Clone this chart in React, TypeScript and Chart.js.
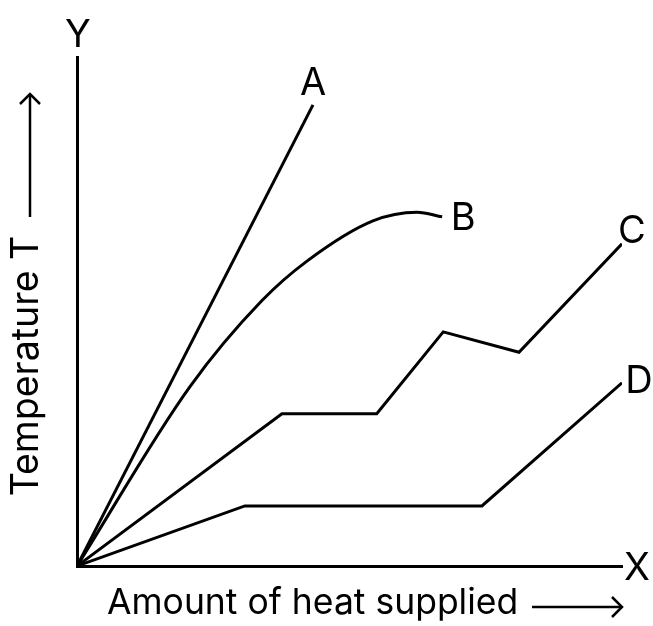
import { useEffect, useRef } from 'react';
import { Chart, registerables } from 'chart.js';

Chart.register(...registerables);

// heat supplied (x) and temperature (y), both on a 0–100 scale with no ticks
const seriesNames = ['A', 'B', 'C', 'D'];
const aHeat = [0, 43.3];
const aTemp = [0, 90.6];
const bHeat = [0, 20.7, 33.9, 42.2, 54.3, 62.4, 67.0];
const bTemp = [0, 35.2, 52.1, 59.9, 67.8, 69.5, 68.6];
const cHeat = [0, 37.6, 55.0, 67.2, 81.1, 100];
const cTemp = [0, 29.9, 29.9, 46.0, 42.0, 63.3];
const dHeat = [0, 30.8, 74.3, 100];
const dTemp = [0, 11.8, 11.8, 36.0];

const xTitle = 'Amount of heat supplied';
const yTitle = 'Temperature T';

// label baseline offsets from each curve's end point, px
const labelOffsets = [
    [0, -10],
    [21, 13],
    [10, -1],
    [17, 10],
];

const FONT = 'Inter, "DejaVu Sans", sans-serif';

function toPoints(xs: number[], ys: number[]) {
    return xs.map((x, i) => ({ x, y: ys[i] }));
}

function arrowHead(ctx: CanvasRenderingContext2D, x: number, y: number, dir: 'up' | 'right') {
    ctx.beginPath();
    if (dir === 'right') {
        ctx.moveTo(x - 10, y - 10);
        ctx.lineTo(x, y);
        ctx.lineTo(x - 10, y + 10);
    } else {
        ctx.moveTo(x - 10, y + 10);
        ctx.lineTo(x, y);
        ctx.lineTo(x + 10, y + 10);
    }
    ctx.stroke();
}

const annotations = {
    id: 'annotations',
    afterDraw(chart: Chart) {
        const { ctx, scales } = chart;
        const xs = scales.x;
        const ys = scales.y;
        ctx.save();
        ctx.fillStyle = '#000';
        ctx.strokeStyle = '#000';
        ctx.lineWidth = 2.5;
        ctx.textBaseline = 'alphabetic';

        // curve labels
        ctx.font = `38px ${FONT}`;
        ctx.textAlign = 'center';
        chart.data.datasets.forEach((ds, i) => {
            const pts = ds.data as { x: number; y: number }[];
            const last = pts[pts.length - 1];
            const px = xs.getPixelForValue(last.x) + labelOffsets[i][0];
            const py = ys.getPixelForValue(last.y) + labelOffsets[i][1];
            ctx.fillText(seriesNames[i], px, py);
        });

        // axis letters
        ctx.fillText('X', xs.right + 15, ys.bottom + 14);
        ctx.fillText('Y', xs.left + 1, ys.top - 10);

        // axis titles with arrows
        ctx.font = `35.5px ${FONT}`;
        ctx.textAlign = 'left';
        ctx.fillText(xTitle, 107, 614);
        ctx.beginPath();
        ctx.moveTo(532, 607);
        ctx.lineTo(622, 607);
        ctx.stroke();
        arrowHead(ctx, 622, 607, 'right');

        ctx.save();
        ctx.font = `37.5px ${FONT}`;
        ctx.translate(38, 366);
        ctx.rotate(-Math.PI / 2);
        ctx.textAlign = 'center';
        ctx.fillText(yTitle, 0, 0);
        ctx.restore();
        ctx.beginPath();
        ctx.moveTo(30, 217);
        ctx.lineTo(30, 94);
        ctx.stroke();
        arrowHead(ctx, 30, 94, 'up');

        ctx.restore();
    },
};

export default function App() {
    const canvasRef = useRef<HTMLCanvasElement>(null);

    useEffect(() => {
        if (!canvasRef.current) return;
        const line = (label: string, xs: number[], ys: number[], smooth = false) => ({
            label,
            data: toPoints(xs, ys),
            borderColor: '#000',
            borderWidth: 3,
            pointRadius: 0,
            fill: false,
            cubicInterpolationMode: smooth ? ('monotone' as const) : ('default' as const),
            tension: 0,
        });

        const chart = new Chart(canvasRef.current, {
            type: 'line',
            data: {
                datasets: [
                    line('A', aHeat, aTemp),
                    line('B', bHeat, bTemp, true),
                    line('C', cHeat, cTemp),
                    line('D', dHeat, dTemp),
                ],
            },
            options: {
                responsive: true,
                maintainAspectRatio: false,
                animation: false,
                layout: { padding: { left: 77, top: 57, right: 31, bottom: 60 } },
                plugins: {
                    legend: { display: false },
                    tooltip: { enabled: false },
                },
                scales: {
                    x: {
                        type: 'linear',
                        min: 0,
                        max: 100,
                        grid: { display: false, drawTicks: false },
                        ticks: { display: false },
                        border: { display: true, color: '#000', width: 3 },
                    },
                    y: {
                        type: 'linear',
                        min: 0,
                        max: 100,
                        grid: { display: false, drawTicks: false },
                        ticks: { display: false },
                        border: { display: true, color: '#000', width: 3 },
                    },
                },
            },
            plugins: [annotations],
        });

        return () => chart.destroy();
    }, []);

    return (
        <div
            style={{
                position: 'fixed',
                left: 0,
                top: 0,
                width: 653,
                height: 626,
                background: '#fff',
            }}
        >
            <canvas ref={canvasRef} />
        </div>
    );
}
